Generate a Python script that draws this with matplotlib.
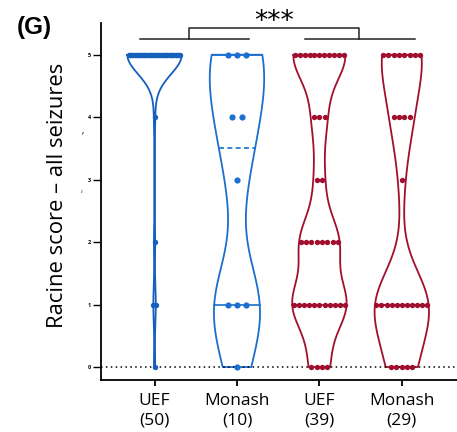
import matplotlib
matplotlib.use("Agg")
import matplotlib.pyplot as plt
import numpy as np

plt.rcParams['font.family'] = ['Open Sans', 'DejaVu Sans']

# data: racine scores per group, as counts at each score level
scores = [0, 1, 2, 3, 4, 5]
groups = ['UEF\n(50)', 'Monash\n(10)', 'UEF\n(39)', 'Monash\n(29)']
counts_uef_b = [1, 2, 1, 0, 1, 45]
counts_mon_b = [1, 3, 0, 1, 2, 3]
counts_uef_r = [4, 11, 8, 2, 3, 11]
counts_mon_r = [5, 11, 0, 1, 4, 8]
all_counts = [counts_uef_b, counts_mon_b, counts_uef_r, counts_mon_r]

colors = ['#1560bd', '#1a6fcf', '#a0102e', '#a0102e']
bandwidths = [0.31, 0.72, 0.42, 0.56]
dot_step = [0.065, 0.11, 0.065, 0.065]

fig = plt.figure(figsize=(4.57, 4.32), dpi=100)
ax = fig.add_axes([0.221, 0.120, 0.779, 0.827])

def violin_half_width(body, pos, y):
    v = body.get_paths()[0].vertices
    right = v[v[:, 0] >= pos]
    order = np.argsort(right[:, 1])
    return np.interp(y, right[order, 1], right[order, 0]) - pos

for i, cnts in enumerate(all_counts):
    data = np.repeat(scores, cnts).astype(float)
    sd = np.std(data, ddof=1)
    vp = ax.violinplot(data, positions=[i], widths=0.66, showextrema=False,
                       bw_method=bandwidths[i] / sd, points=200)
    body = vp['bodies'][0]
    body.set_facecolor('none')
    body.set_edgecolor(colors[i])
    body.set_linewidth(1.3)
    body.set_alpha(1)

    q1, med, q3 = np.percentile(data, [25, 50, 75], method='weibull')
    for q, ls in [(q1, '-'), (q3, '-'), (med, (0, (3, 2)))]:
        hw = violin_half_width(body, i, q)
        ax.plot([i - hw, i + hw], [q, q], color=colors[i], lw=1.2, ls=ls, zorder=3)

    # dots in rows at each level
    for s, n in zip(scores, cnts):
        if n == 0:
            continue
        hw = violin_half_width(body, i, s) * 0.95
        step = dot_step[i]
        if (n - 1) * step > 2 * hw and n > 1:
            step = 2 * hw / (n - 1)
        xs = i + (np.arange(n) - (n - 1) / 2) * step
        size = 20 if i == 1 else 15
        ax.scatter(xs, np.full(n, s), s=size, color=colors[i], zorder=4, linewidths=0)

ax.axhline(0, color='black', lw=1.1, ls=(0, (1, 2.2)), zorder=1)

ax.set_xlim(-0.65, 3.67)
ax.set_ylim(-0.21, 5.51)
ax.spines['top'].set_visible(False)
ax.spines['right'].set_visible(False)
ax.spines['left'].set_linewidth(1.3)
ax.spines['bottom'].set_linewidth(1.3)

ax.set_yticks(scores)
ax.set_yticklabels([str(s) for s in scores], fontsize=4, fontweight='bold')
ax.tick_params(axis='y', length=5.5, width=1, pad=1.5)
ax.set_xticks(range(4))
ax.set_xticklabels(groups, fontsize=12.5, linespacing=1.35)
ax.tick_params(axis='x', length=4, width=1.3, pad=5)

ax.set_ylabel('Racine score \u2013 all seizures', fontsize=15.8)
ax.yaxis.set_label_coords(-0.093, 0.517)

# significance bracket
ax.plot([-0.18, 1.15], [5.26, 5.26], color='#222222', lw=1.1, clip_on=False)
ax.plot([1.82, 3.16], [5.26, 5.26], color='#222222', lw=1.1, clip_on=False)
ax.plot([0.42, 0.42, 2.48, 2.48], [5.26, 5.43, 5.43, 5.26], color='#222222', lw=1.1, clip_on=False)
ax.text(1.45, 5.42, '***', ha='center', va='baseline', fontsize=19,
        family='DejaVu Sans', clip_on=False)

# stray marks in the source image
fig.text(83 / 457, 1 - 137 / 432, '\u2019', fontsize=8, ha='center', va='center', color='#333333')
fig.text(82 / 457, 1 - 195 / 432, '\u2018', fontsize=7, ha='center', va='center', color='#555555')

fig.text(0.036, 0.962, '(G)', fontsize=17.5, fontweight='bold', ha='left', va='top',
         family='Liberation Sans')

fig.savefig('out.png', dpi=100)
